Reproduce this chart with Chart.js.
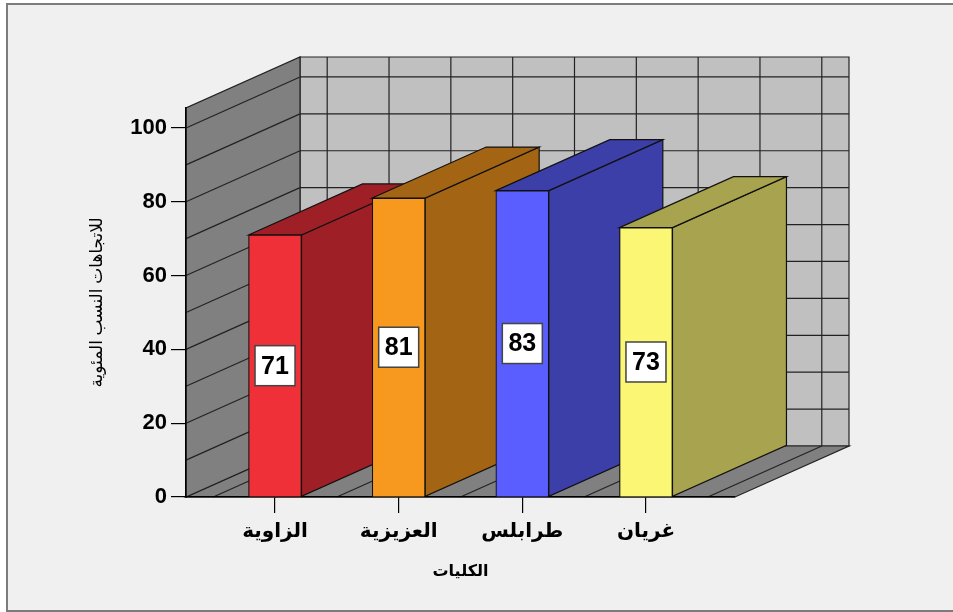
<!DOCTYPE html>
<html>
<head>
<meta charset="utf-8">
<script src="https://cdn.jsdelivr.net/npm/chart.js@4/dist/chart.umd.min.js"></script>
<style>
body { margin: 0; background: #fff; }
</style>
</head>
<body>
<canvas id="chart3d" width="953" height="612"></canvas>
<script>
// data
var categories = ["الزاوية", "العزيزية", "طرابلس", "غريان"];
var values = [71, 81, 83, 73];
var yTicks = [0, 20, 40, 60, 80, 100];
var frontColors = ["#ef3038", "#f8991f", "#5a5eff", "#fbf774"];
var sideColors = ["#9e2026", "#a36513", "#3c3fa8", "#a7a34e"];
var yTitle = "للاتجاهات النسب المئوية";
var xTitle = "الكليات";

var yMax = 105.4;
var DX = 114, DY = -51;

function poly(ctx, pts, fill) {
	ctx.beginPath();
	ctx.moveTo(pts[0][0], pts[0][1]);
	for (var i = 1; i < pts.length; i++) ctx.lineTo(pts[i][0], pts[i][1]);
	ctx.closePath();
	ctx.fillStyle = fill;
	ctx.fill();
	ctx.stroke();
}

function line(ctx, ax, ay, bx, by) {
	ctx.beginPath();
	ctx.moveTo(ax, ay);
	ctx.lineTo(bx, by);
	ctx.stroke();
}

var box3d = {
	id: "box3d",
	beforeDraw: function(chart) {
		var ctx = chart.ctx;
		var xs = chart.scales.x, ys = chart.scales.y;
		ctx.save();
		// frame
		ctx.fillStyle = "#fff";
		ctx.fillRect(0, 0, chart.width, chart.height);
		ctx.fillStyle = "#f0f0f0";
		ctx.fillRect(7, 4, chart.width, 607);
		ctx.strokeStyle = "#7c7c7c";
		ctx.lineWidth = 2;
		ctx.strokeRect(7, 4, chart.width + 10, 607);

		var x0 = xs.left, x1 = xs.right;
		var yb = ys.getPixelForValue(0), yt = ys.getPixelForValue(yMax);
		ctx.strokeStyle = "#222";
		ctx.lineWidth = 1.2;

		// back wall
		poly(ctx, [[x0 + DX, yt + DY], [x1 + DX, yt + DY], [x1 + DX, yb + DY], [x0 + DX, yb + DY]], "#c0c0c0");
		for (var v = 10; v <= 100; v += 10) {
			var py = ys.getPixelForValue(v) + DY;
			line(ctx, x0 + DX, py, x1 + DX, py);
		}
		for (var c = 0.5; c <= 4.5; c += 0.5) {
			var px = xs.getPixelForValue(c) + DX;
			line(ctx, px, yt + DY, px, yb + DY);
		}

		// floor
		poly(ctx, [[x0, yb], [x1, yb], [x1 + DX, yb + DY], [x0 + DX, yb + DY]], "#808080");
		for (var c2 = 0.5; c2 <= 4.5; c2 += 0.5) {
			var fx = xs.getPixelForValue(c2);
			line(ctx, fx, yb, fx + DX, yb + DY);
		}

		// left wall
		poly(ctx, [[x0, yb], [x0, yt], [x0 + DX, yt + DY], [x0 + DX, yb + DY]], "#808080");
		for (var w = 10; w <= 100; w += 10) {
			var wy = ys.getPixelForValue(w);
			line(ctx, x0, wy, x0 + DX, wy + DY);
		}

		// bar sides and tops
		var meta = chart.getDatasetMeta(0);
		ctx.lineWidth = 1.2;
		ctx.strokeStyle = "#111";
		meta.data.forEach(function(bar, i) {
			var l = bar.x - bar.width / 2, r = bar.x + bar.width / 2;
			var top = bar.y, base = bar.base;
			poly(ctx, [[r, top], [r + DX, top + DY], [r + DX, base + DY], [r, base]], sideColors[i]);
			poly(ctx, [[l, top], [l + DX, top + DY], [r + DX, top + DY], [r, top]], sideColors[i]);
		});
		ctx.restore();
	},
	afterDatasetsDraw: function(chart) {
		var ctx = chart.ctx;
		var meta = chart.getDatasetMeta(0);
		ctx.save();
		meta.data.forEach(function(bar, i) {
			var cx = bar.x, cy = (bar.y + bar.base) / 2;
			ctx.fillStyle = "#fff";
			ctx.strokeStyle = "#444";
			ctx.lineWidth = 1.5;
			ctx.fillRect(cx - 20, cy - 20, 40, 40);
			ctx.strokeRect(cx - 20, cy - 20, 40, 40);
			ctx.fillStyle = "#000";
			ctx.font = "bold 25px Arial, 'Liberation Sans', sans-serif";
			ctx.textAlign = "center";
			ctx.textBaseline = "middle";
			ctx.fillText(String(values[i]), cx, cy + 1);
		});
		ctx.restore();
	}
};

var points = values.map(function(v, i) { return { x: i + 1, y: v }; });

new Chart(document.getElementById("chart3d"), {
	type: "bar",
	data: {
		datasets: [{
			data: points,
			backgroundColor: frontColors,
			borderColor: "#111",
			borderWidth: 1.2,
			barThickness: 53
		}]
	},
	options: {
		responsive: false,
		animation: false,
		devicePixelRatio: 1,
		layout: { padding: { top: 108, right: 218, left: 0, bottom: 0 } },
		plugins: { legend: { display: false }, tooltip: { enabled: false } },
		scales: {
			x: {
				type: "linear",
				offset: false,
				min: 0.28,
				max: 4.72,
				afterBuildTicks: function(s) {
					s.ticks = categories.map(function(c, i) { return { value: i + 1 }; });
				},
				afterFit: function(s) { s.height = 115; },
				ticks: {
					autoSkip: false,
					maxRotation: 0,
					padding: 6,
					color: "#000",
					font: { family: "Arial, 'DejaVu Sans', sans-serif", size: 20, weight: "bold" },
					callback: function(v) { return categories[v - 1]; }
				},
				grid: { offset: false, drawOnChartArea: false, drawTicks: true, tickLength: 16, color: "#000", lineWidth: 1.2 },
				border: { display: true, color: "#000", width: 1.5 },
				title: {
					display: true,
					text: xTitle,
					color: "#000",
					font: { family: "Arial, 'DejaVu Sans', sans-serif", size: 16, weight: "bold" },
					padding: { top: 0, bottom: 31 }
				}
			},
			y: {
				min: 0,
				max: yMax,
				afterBuildTicks: function(s) {
					s.ticks = yTicks.map(function(v) { return { value: v }; });
				},
				afterFit: function(s) { s.width = 186; },
				ticks: {
					padding: 4,
					color: "#000",
					font: { family: "Arial, 'Liberation Sans', sans-serif", size: 22, weight: "bold" }
				},
				grid: { drawOnChartArea: false, drawTicks: true, tickLength: 15, color: "#000", lineWidth: 1.2 },
				border: { display: true, color: "#000", width: 1.5 },
				title: {
					display: true,
					text: yTitle,
					color: "#000",
					font: { family: "Arial, 'DejaVu Sans', sans-serif", size: 17 },
					padding: { top: 87, bottom: 0 }
				}
			}
		}
	},
	plugins: [box3d]
});
</script>
</body>
</html>
